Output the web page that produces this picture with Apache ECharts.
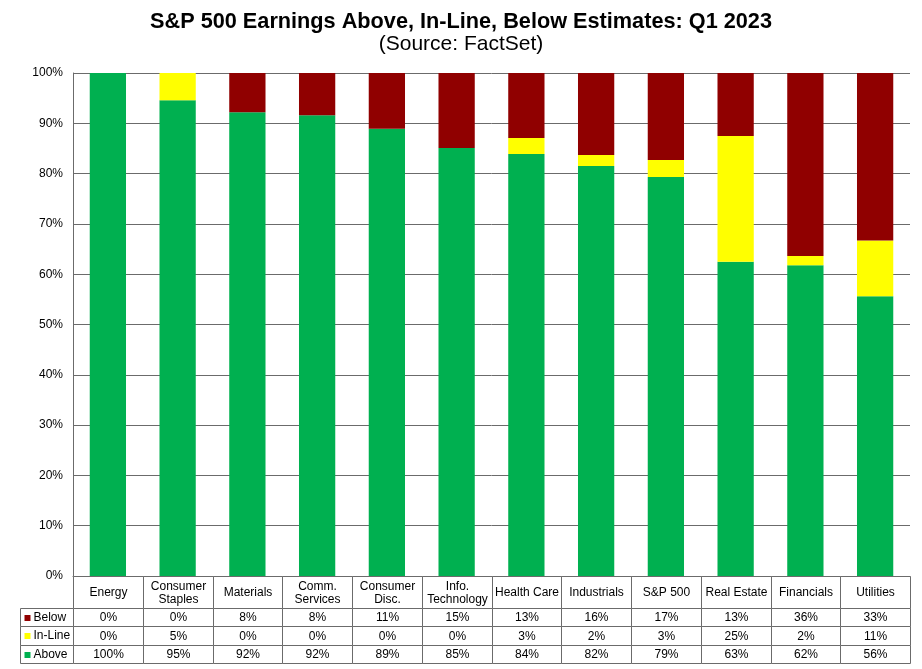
<!DOCTYPE html>
<html><head><meta charset="utf-8">
<script src="https://cdn.jsdelivr.net/npm/echarts@6/dist/echarts.min.js"></script>
<style>html,body{margin:0;padding:0;background:#fff}#c{width:922px;height:669px}</style>
</head><body><div id="c"></div>
<script>
const categories = ['Energy','Consumer\nStaples','Materials','Comm.\nServices','Consumer\nDisc.','Info.\nTechnology','Health Care','Industrials','S&P 500','Real Estate','Financials','Utilities'];
const above  = [100, 94.6, 92.2, 91.6, 88.9, 85.1, 83.9, 81.5, 79.3, 62.5, 61.8, 55.6];
const inLine = [0, 5.4, 0, 0, 0, 0, 3.2, 2.2, 3.4, 25, 1.8, 11.1];
const below  = [0, 0, 7.8, 8.4, 11.1, 14.9, 12.9, 16.3, 17.3, 12.5, 36.4, 33.3];
const yTicks = [0,10,20,30,40,50,60,70,80,90,100];
const seriesNames = ['Below','In-Line','Above'];

const FONT = '"Liberation Sans", Arial, sans-serif';
const colors = {Above:'#00B050','In-Line':'#FFFF00',Below:'#900000'};
const lineColor = '#6b6b6b';
const rowValues = {Below: below, 'In-Line': inLine, Above: above};
// table row extents in table-axis units: header, Below, In-Line, Above
const rowBounds = [[0,1.75],[1.75,2.75],[2.75,3.75],[3.75,4.75]];
const headColStart = -0.76;

const cells = [];
categories.forEach((c,i)=>cells.push({col:i,row:0,text:c}));
seriesNames.forEach((s,r)=>{
  cells.push({col:-1,row:r+1,text:s,marker:colors[s]});
  rowValues[s].forEach((v,i)=>cells.push({col:i,row:r+1,text:Math.round(v)+'%'}));
});

function renderCell(params, api){
  const cell = cells[params.dataIndex];
  const xs = cell.col < 0 ? headColStart : cell.col;
  const xe = cell.col < 0 ? 0 : cell.col + 1;
  const rb = rowBounds[cell.row];
  const p0 = api.coord([xs, rb[0]]);
  const p1 = api.coord([xe, rb[1]]);
  const x0 = Math.round(p0[0]) + 0.5, y0 = Math.round(p0[1]) + 0.5;
  const x1 = Math.round(p1[0]) + 0.5, y1 = Math.round(p1[1]) + 0.5;
  const children = [{
    type:'rect', shape:{x:x0,y:y0,width:x1-x0,height:y1-y0},
    style:{fill:'#fff',stroke:lineColor,lineWidth:1}
  }];
  if (cell.marker){
    const cy = (y0+y1)/2;
    children.push({type:'rect',shape:{x:x0+4,y:Math.round(cy-3),width:6,height:6},style:{fill:cell.marker}});
    children.push({type:'text',style:{text:cell.text,x:x0+13,y:cy,align:'left',verticalAlign:'middle',fontSize:12,fontFamily:FONT,fill:'#000'}});
  } else {
    children.push({type:'text',style:{text:cell.text,x:(x0+x1)/2,y:(y0+y1)/2+0.5,align:'center',verticalAlign:'middle',fontSize:12,lineHeight:13,fontFamily:FONT,fill:'#000'}});
  }
  return {type:'group',children};
}

const chart = echarts.init(document.getElementById('c'));
chart.setOption({
  animation:false,
  backgroundColor:'#fff',
  title:[
    {text:'S&P 500 Earnings Above, In-Line, Below Estimates: Q1 2023',left:'center',top:6,
     textStyle:{fontFamily:FONT,fontSize:21.7,fontWeight:'bold',color:'#000'}},
    {text:'(Source: FactSet)',left:'center',top:29,
     textStyle:{fontFamily:FONT,fontSize:21,fontWeight:'normal',color:'#000'}}
  ],
  grid:[
    {left:73,right:12,top:73,bottom:93},
    {left:20,right:12,top:576,bottom:6}
  ],
  xAxis:[
    {type:'category',gridIndex:0,data:categories,axisTick:{show:false},axisLabel:{show:false},
     axisLine:{show:true,lineStyle:{color:lineColor}}},
    {type:'value',gridIndex:1,min:headColStart,max:12,show:false}
  ],
  yAxis:[
    {type:'value',gridIndex:0,min:0,max:100,interval:10,
     axisLabel:{formatter:v=>yTicks.includes(v)?v+'%':'',fontFamily:FONT,fontSize:12,color:'#000',margin:10},
     axisLine:{show:true,lineStyle:{color:lineColor}},axisTick:{show:false},
     splitLine:{show:true,lineStyle:{color:lineColor,width:1}}},
    {type:'value',gridIndex:1,min:0,max:4.75,inverse:true,show:false}
  ],
  series:[
    {name:'Above',type:'bar',stack:'t',data:above,barWidth:'52%',itemStyle:{color:colors.Above}},
    {name:'In-Line',type:'bar',stack:'t',data:inLine,barWidth:'52%',itemStyle:{color:colors['In-Line']}},
    {name:'Below',type:'bar',stack:'t',data:below,barWidth:'52%',itemStyle:{color:colors.Below}},
    {type:'custom',xAxisIndex:1,yAxisIndex:1,renderItem:renderCell,clip:false,silent:true,
     data:cells.map(c=>[c.col,c.row])}
  ]
});
</script></body></html>
